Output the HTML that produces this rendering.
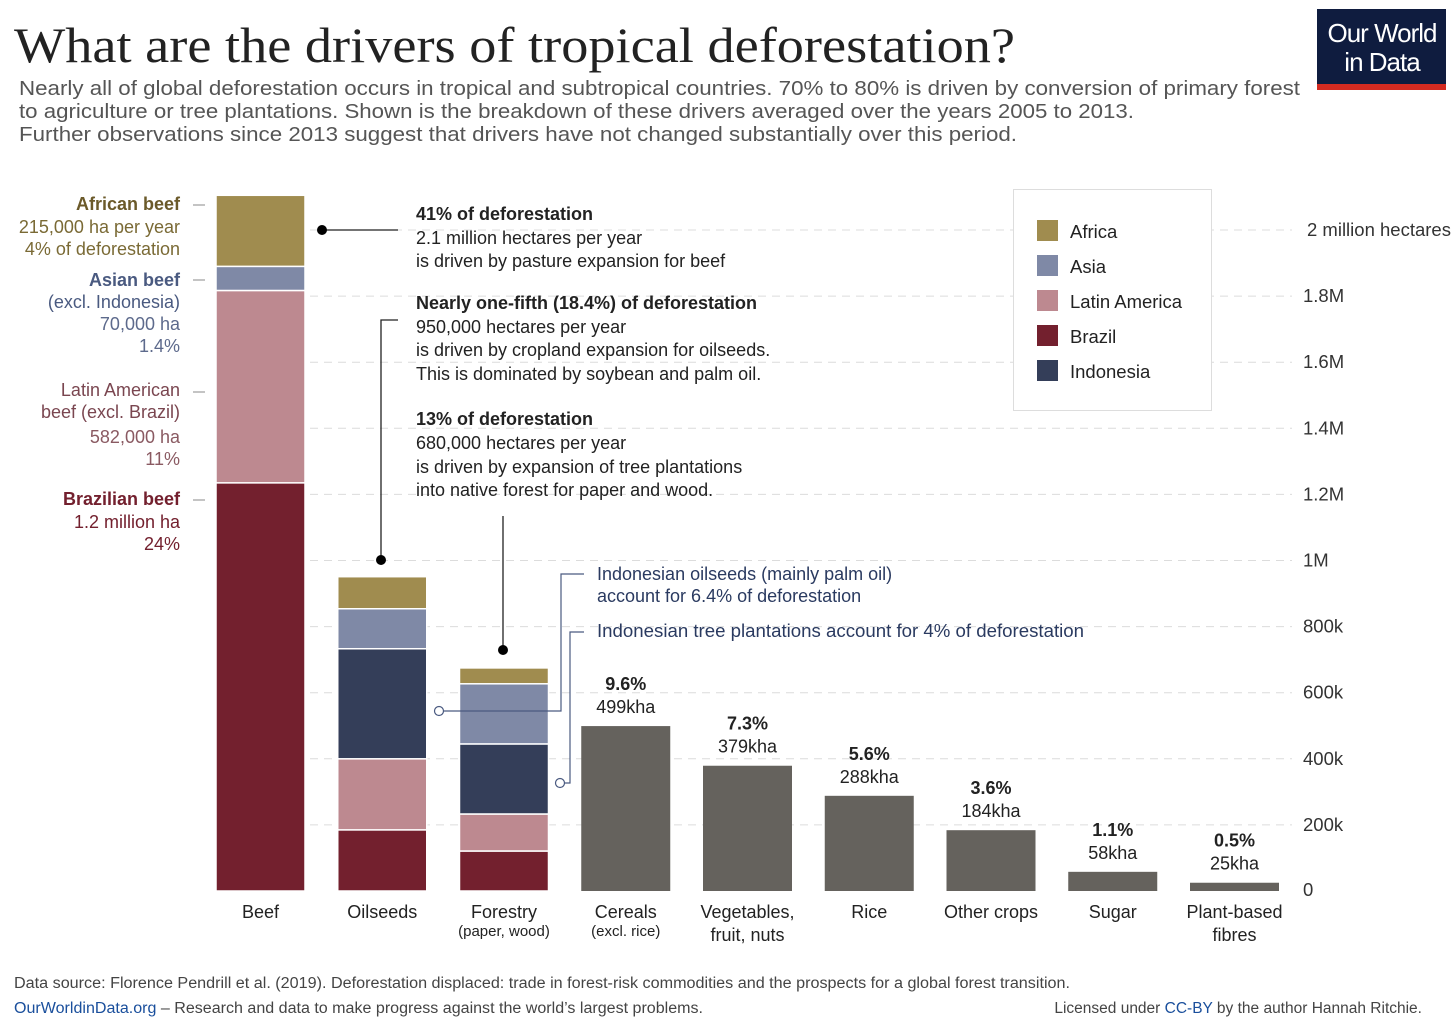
<!DOCTYPE html>
<html><head><meta charset="utf-8">
<style>
html,body{margin:0;padding:0;background:#fff;}
svg{display:block;font-family:"Liberation Sans",sans-serif;}
</style></head>
<body>
<svg id="chart" width="1456" height="1028" viewBox="0 0 1456 1028">
  <rect width="1456" height="1028" fill="#fff"/>
  <text x="14" y="62" font-family="Liberation Serif, serif" font-size="50" fill="#222" textLength="1001" lengthAdjust="spacingAndGlyphs">What are the drivers of tropical deforestation?</text>
  <g font-size="20.5" fill="#555">
    <text x="19" y="95" textLength="1281" lengthAdjust="spacingAndGlyphs">Nearly all of global deforestation occurs in tropical and subtropical countries. 70% to 80% is driven by conversion of primary forest</text>
    <text x="19" y="118" textLength="1115" lengthAdjust="spacingAndGlyphs">to agriculture or tree plantations. Shown is the breakdown of these drivers averaged over the years 2005 to 2013.</text>
    <text x="19" y="141" textLength="998" lengthAdjust="spacingAndGlyphs">Further observations  since 2013 suggest that drivers have not changed substantially over this period.</text>
  </g>
  <g>
    <rect x="1317" y="9" width="129" height="75" fill="#0f1c3f"/>
    <rect x="1317" y="84" width="129" height="6" fill="#d42b21"/>
    <text x="1382" y="42" text-anchor="middle" fill="#fff" font-size="26" letter-spacing="-1">Our World</text>
    <text x="1382" y="71" text-anchor="middle" fill="#fff" font-size="26" letter-spacing="-1">in Data</text>
  </g>
  <g id="grid"></g>
  <g id="ticks"></g>
  <g id="bars"></g>
  <g id="xlabels"></g>
  <g id="vlabels"></g>

  <g text-anchor="end" font-size="18">
    <text x="180" y="210" fill="#6b5a2a" font-weight="bold">African beef</text>
    <text x="180" y="233" fill="#7a6a35">215,000 ha per year</text>
    <text x="180" y="255" fill="#7a6a35">4% of deforestation</text>
    <text x="180" y="286" fill="#4a5a80" font-weight="bold">Asian beef</text>
    <text x="180" y="308" fill="#4a5a80">(excl. Indonesia)</text>
    <text x="180" y="330" fill="#5d6a8c">70,000 ha</text>
    <text x="180" y="352" fill="#5d6a8c">1.4%</text>
    <text x="180" y="396" fill="#7a4650">Latin American</text>
    <text x="180" y="418" fill="#7a4650">beef (excl. Brazil)</text>
    <text x="180" y="443" fill="#8a5a62">582,000 ha</text>
    <text x="180" y="465" fill="#8a5a62">11%</text>
    <text x="180" y="505" fill="#73202e" font-weight="bold">Brazilian beef</text>
    <text x="180" y="528" fill="#73202e">1.2 million ha</text>
    <text x="180" y="550" fill="#73202e">24%</text>
  </g>
  <g stroke="#8a8a8a" stroke-width="1">
    <line x1="193" y1="205" x2="205" y2="205"/><line x1="193" y1="280" x2="205" y2="280"/>
    <line x1="193" y1="392" x2="205" y2="392"/><line x1="193" y1="500" x2="205" y2="500"/>
  </g>

  <g fill="#222" font-size="18">
    <text x="416" y="220" font-weight="bold">41% of deforestation</text>
    <text x="416" y="244">2.1 million hectares per year</text>
    <text x="416" y="267">is driven by pasture expansion for beef</text>
    <text x="416" y="309" font-weight="bold">Nearly one-fifth (18.4%) of deforestation</text>
    <text x="416" y="333">950,000 hectares per year</text>
    <text x="416" y="356">is driven by cropland expansion for oilseeds.</text>
    <text x="416" y="380">This is dominated by soybean and palm oil.</text>
    <text x="416" y="425" font-weight="bold">13% of deforestation</text>
    <text x="416" y="449">680,000 hectares per year</text>
    <text x="416" y="473">is driven by expansion of tree plantations</text>
    <text x="416" y="496">into native forest for paper and wood.</text>
  </g>
  <g stroke="#222" stroke-width="1.3" fill="none">
    <line x1="322" y1="230" x2="398" y2="230"/>
    <polyline points="398,320 381,320 381,560"/>
    <line x1="503" y1="516" x2="503" y2="650"/>
  </g>
  <g fill="#000">
    <circle cx="322" cy="230" r="5"/><circle cx="381" cy="560" r="5"/><circle cx="503" cy="650" r="5"/>
  </g>
  <g font-size="18" fill="#2a3a60">
    <text x="597" y="580">Indonesian oilseeds (mainly palm oil)</text>
    <text x="597" y="602">account for 6.4% of deforestation</text>
    <text x="597" y="637" textLength="487" lengthAdjust="spacingAndGlyphs">Indonesian tree plantations account for 4% of deforestation</text>
  </g>
  <g stroke="#4a5a80" stroke-width="1.2" fill="none">
    <polyline points="443,711 561,711 561,574 584,574"/>
    <polyline points="565,783 570,783 570,632 584,632"/>
    <circle cx="439" cy="711" r="4.5" fill="#fff"/>
    <circle cx="560" cy="783" r="4.5" fill="#fff"/>
  </g>

  <g>
    <rect x="1013.5" y="189.5" width="198" height="221" fill="#fff" stroke="#ddd"/>
    <g id="legend-items"></g>
  </g>

  <g font-size="15.5" fill="#444">
    <text x="14" y="988" textLength="1056" lengthAdjust="spacingAndGlyphs">Data source: Florence Pendrill et al. (2019). Deforestation displaced: trade in forest-risk commodities and the prospects for a global forest transition.</text>
    <text x="14" y="1013" textLength="689" lengthAdjust="spacingAndGlyphs"><tspan fill="#1a4f9c">OurWorldinData.org</tspan> – Research and data to make progress against the world’s largest problems.</text>
    <text x="1422" y="1013" text-anchor="end">Licensed under <tspan fill="#1a4f9c">CC-BY</tspan> by the author Hannah Ritchie.</text>
  </g>
</svg>
<script>
const categories = ["Beef","Oilseeds","Forestry","Cereals","Vegetables,","Rice","Other crops","Sugar","Plant-based"];
const categorySub = ["","","(paper, wood)","(excl. rice)","fruit, nuts","","","","fibres"];
const regions = ["Brazil","Latin America","Indonesia","Asia","Africa"];
const brazilVals = [1235000,185000,121000];
const latamVals = [582000,215000,112000];
const indonesiaVals = [0,333000,212000];
const asiaVals = [73000,121000,182000];
const africaVals = [215000,97000,48000];
const otherVals = [0,0,0,499000,379000,288000,184000,58000,25000];
const otherPct = ["","","","9.6%","7.3%","5.6%","3.6%","1.1%","0.5%"];
const otherKha = ["","","","499kha","379kha","288kha","184kha","58kha","25kha"];
const tickVals = [0,200000,400000,600000,800000,1000000,1200000,1400000,1600000,1800000,2000000];
const tickLabels = ["0","200k","400k","600k","800k","1M","1.2M","1.4M","1.6M","1.8M","2 million hectares"];
const legendLabels = ["Africa","Asia","Latin America","Brazil","Indonesia"];

const NS="http://www.w3.org/2000/svg";
const colors={"Brazil":"#73202e","Latin America":"#bd8990","Indonesia":"#343e59","Asia":"#7f89a6","Africa":"#a08c4f"};
const gray="#65625d";
const y=v=>891 - v*0.0003305;
const x=i=>216 + i*121.75;
const bw=89;
function mk(tag,attrs,parent){const e=document.createElementNS(NS,tag);for(const k in attrs)e.setAttribute(k,attrs[k]);parent.appendChild(e);return e;}

const grid=document.getElementById('grid'), ticks=document.getElementById('ticks');
tickVals.forEach((v,i)=>{
  if(i>0){const l=mk('line',{x1:310,x2:1292,y1:y(v),y2:y(v),stroke:'#dcdcdc','stroke-dasharray':'8,6'},grid);
  
  }
  const t=mk('text',{x:i==10?1307:1303,y:y(v)+(i==0?5:6),'font-size':18.5,fill:'#333'},ticks);
  t.textContent=tickLabels[i];
  
  
});

const bars=document.getElementById('bars');
const series=[brazilVals,latamVals,indonesiaVals,asiaVals,africaVals];
for(let i=0;i<3;i++){
  let base=0;
  series.forEach((arr,r)=>{
    const v=arr[i]; if(!v) return;
    const r0=mk('rect',{x:x(i),y:y(base+v),width:bw,height:y(base)-y(base+v),fill:colors[regions[r]],stroke:'#fff','stroke-width':1.5},bars);
    
    
    base+=v;
  });
}
const vl=document.getElementById('vlabels');
otherVals.forEach((v,i)=>{
  if(!v) return;
  const r=mk('rect',{x:x(i),y:y(v),width:bw,height:y(0)-y(v),fill:gray},bars);
  
  
  const a=mk('text',{x:x(i)+bw/2,y:y(v)-36,'text-anchor':'middle','font-size':18,'font-weight':'bold',fill:'#222'},vl);
  a.textContent=otherPct[i];
  
  
  const b=mk('text',{x:x(i)+bw/2,y:y(v)-13,'text-anchor':'middle','font-size':18,fill:'#222'},vl);
  b.textContent=otherKha[i];
  
  
});

const xl=document.getElementById('xlabels');
categories.forEach((c,i)=>{
  const cx=x(i)+bw/2;
  const t=mk('text',{x:cx,y:918,'text-anchor':'middle','font-size':18,fill:'#222'},xl);
  t.textContent=c;
  
  
  if(categorySub[i]){
    const small=(i==2||i==3);
    const s=mk('text',{x:cx,y:small?936:941,'text-anchor':'middle','font-size':small?15:18,fill:'#222'},xl);
    s.textContent=categorySub[i];
    
    
  }
});

const li=document.getElementById('legend-items');
legendLabels.forEach((l,i)=>{
  const yy=220+i*35;
  const r=mk('rect',{x:1037,y:yy,width:21,height:21,fill:colors[l]},li);
  
  
  const t=mk('text',{x:1070,y:yy+18,'font-size':18.5,fill:'#222'},li);
  t.textContent=l;
  
  
});
</script>
</body></html>
